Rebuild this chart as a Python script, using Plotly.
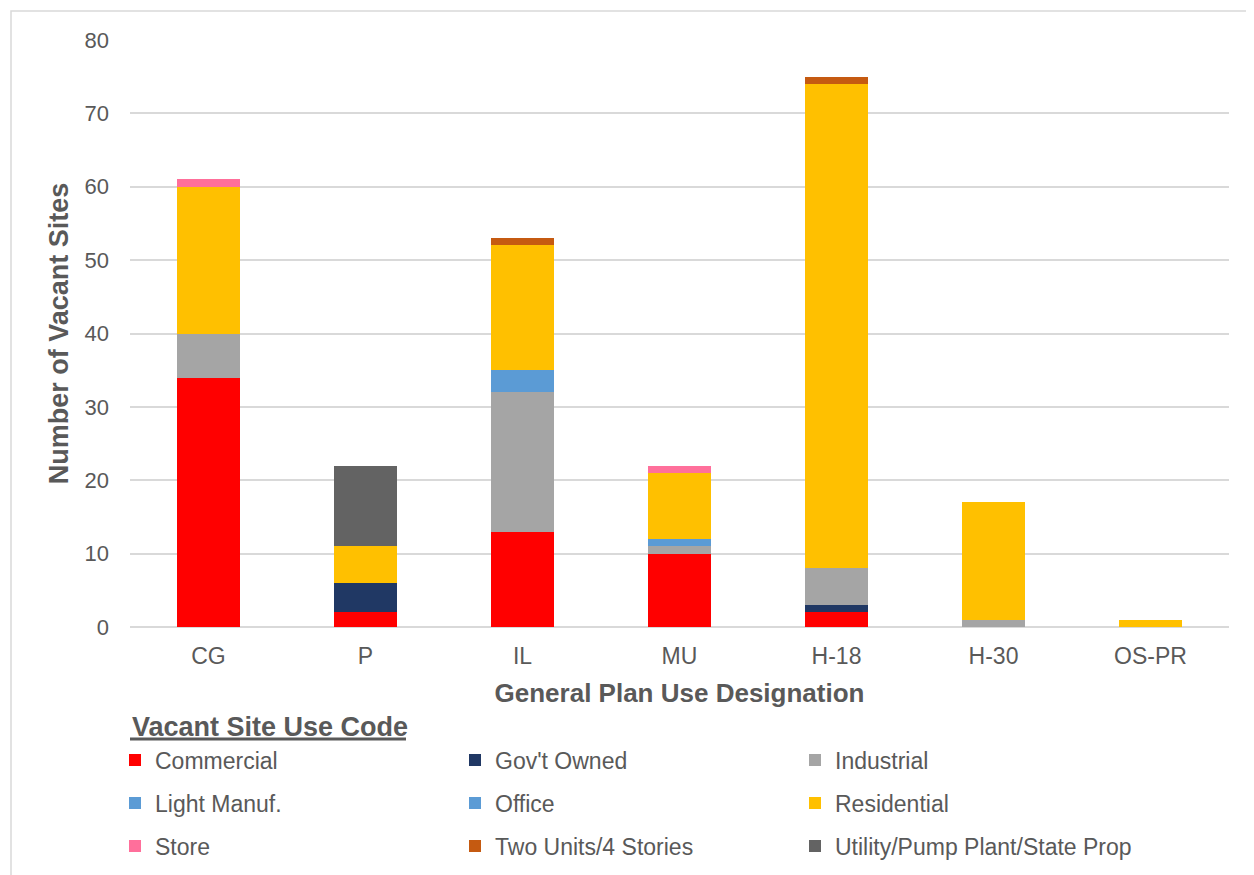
import plotly.graph_objects as go

categories = ["CG", "P", "IL", "MU", "H-18", "H-30", "OS-PR"]

commercial = [34, 2, 13, 10, 2, 0, 0]
govt_owned = [0, 4, 0, 0, 1, 0, 0]
industrial = [6, 0, 19, 1, 5, 1, 0]
light_manuf = [0, 0, 3, 0, 0, 0, 0]
office = [0, 0, 0, 1, 0, 0, 0]
residential = [20, 5, 17, 9, 66, 16, 1]
store = [1, 0, 0, 1, 0, 0, 0]
two_units = [0, 0, 1, 0, 1, 0, 0]
utility = [0, 11, 0, 0, 0, 0, 0]

series = [
    ("Commercial", commercial, "#FF0000", "legend"),
    ("Gov't Owned", govt_owned, "#203864", "legend"),
    ("Industrial", industrial, "#A5A5A5", "legend"),
    ("Light Manuf.", light_manuf, "#5B9BD5", "legend2"),
    ("Office", office, "#5B9BD5", "legend2"),
    ("Residential", residential, "#FFC000", "legend2"),
    ("Store", store, "#FF6F9B", "legend3"),
    ("Two Units/4 Stories", two_units, "#C55A11", "legend3"),
    ("Utility/Pump Plant/State Prop", utility, "#636363", "legend3"),
]

TXT = "#595959"
FONT = "Liberation Sans, Arial, sans-serif"

fig = go.Figure()
for name, vals, color, lg in series:
    fig.add_trace(go.Bar(
        x=categories, y=vals, name=name, legend=lg,
        marker=dict(color=color, line=dict(width=0)),
    ))

OFF = 8  # page body margin offset
W, H = 1254 - OFF, 875 - OFF
L, R, T, B = 130 - OFF, 25, 40 - OFF, 248
pw = W - L - R
ph = H - T - B

def px_x(p):
    return (p - OFF - L) / pw

def px_y(p):
    return (H - B - (p - OFF)) / ph

leg_common = dict(
    orientation="h", entrywidth=295, entrywidthmode="pixels",
    font=dict(family=FONT, size=23, color=TXT),
    bgcolor="rgba(0,0,0,0)", borderwidth=0,
    xanchor="left", yanchor="middle", traceorder="normal",
    x=px_x(115),
)

fig.update_layout(
    width=W, height=H,
    margin=dict(l=L, r=R, t=T, b=B, autoexpand=False),
    paper_bgcolor="white", plot_bgcolor="white",
    barmode="stack", bargap=0.6,
    font=dict(family=FONT, color=TXT),
    xaxis=dict(
        showgrid=False, showline=False, ticks="",
        tickfont=dict(family=FONT, size=23, color=TXT),
        ticklabelstandoff=13,
        title=dict(text="<b>General Plan Use Designation</b>",
                   font=dict(family=FONT, size=26, color=TXT), standoff=15),
    ),
    yaxis=dict(
        range=[0, 80], dtick=10, showgrid=True, gridcolor="#D9D9D9", gridwidth=1.5,
        zeroline=True, zerolinecolor="#D9D9D9", zerolinewidth=1.5,
        showline=False, ticks="",
        tickfont=dict(family=FONT, size=22, color=TXT),
        ticklabelstandoff=20,
        title=dict(text="<b>Number of Vacant Sites</b>",
                   font=dict(family=FONT, size=27, color=TXT), standoff=8),
    ),
    legend=dict(**leg_common, y=px_y(760)),
    legend2=dict(**leg_common, y=px_y(803)),
    legend3=dict(**leg_common, y=px_y(846)),
    showlegend=True,
    annotations=[dict(
        text="<b>Vacant Site Use Code</b>", xref="paper", yref="paper",
        x=px_x(130), y=px_y(727), xanchor="left", yanchor="middle",
        showarrow=False, font=dict(family=FONT, size=27, color=TXT),
    )],
    shapes=[
        dict(type="line", xref="paper", yref="paper",
             x0=px_x(130), x1=px_x(406), y0=px_y(739), y1=px_y(739),
             line=dict(color=TXT, width=3)),
        dict(type="rect", xref="paper", yref="paper",
             x0=px_x(11), x1=px_x(1270), y0=px_y(890), y1=px_y(11),
             line=dict(color="#D9D9D9", width=1.5), layer="below"),
    ],
)

fig.write_html("out.html")
